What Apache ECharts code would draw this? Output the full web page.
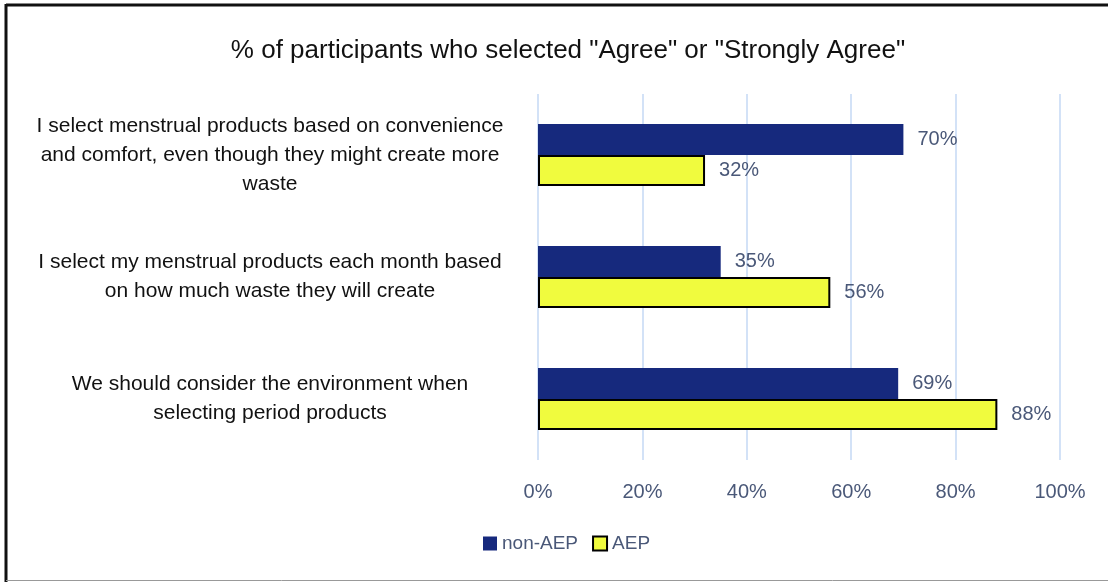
<!DOCTYPE html>
<html>
<head>
<meta charset="utf-8">
<script src="https://cdn.jsdelivr.net/npm/echarts@6/dist/echarts.min.js"></script>
<style>
html,body{margin:0;padding:0;background:#fff;}
#c{width:1108px;height:582px;}
</style>
</head>
<body>
<div id="c"></div>
<script>
const categories = [
  "I select menstrual products based on convenience\nand comfort, even though they might create more\nwaste",
  "I select my menstrual products each month based\non how much waste they will create",
  "We should consider the environment when\nselecting period products"
];
const nonAEP = [70, 35, 69];
const AEP = [32, 56, 88];
const xTicks = [0, 20, 40, 60, 80, 100];

const chart = echarts.init(document.getElementById('c'), null, {renderer: 'canvas'});
const font = '"Liberation Sans", "Open Sans", sans-serif';
const slate = '#4a5878';
chart.setOption({
  animation: false,
  backgroundColor: '#fff',
  title: {
    text: '% of participants who selected "Agree" or "Strongly Agree"',
    left: 563, top: 33, textAlign: 'center',
    textStyle: {fontFamily: font, fontSize: 26, fontWeight: 'normal', color: '#111'}
  },
  legend: {
    bottom: 24, left: 478, itemWidth: 14, itemHeight: 14, itemGap: 14,
    icon: 'rect',
    textStyle: {fontFamily: font, fontSize: 19, color: slate},
    data: ['non-AEP', 'AEP']
  },
  grid: {left: 538, right: 48, top: 94, bottom: 122},
  xAxis: {
    type: 'value', min: xTicks[0], max: xTicks[xTicks.length-1], interval: 20,
    axisLine: {show: false}, axisTick: {show: false},
    splitLine: {lineStyle: {color: '#d3e2f7', width: 2}},
    axisLabel: {formatter: '{value}%', margin: 22, fontFamily: font, fontSize: 20, color: slate}
  },
  yAxis: {
    type: 'category', data: categories, inverse: true,
    axisLine: {show: false}, axisTick: {show: false},
    axisLabel: {margin: 268, align: 'center', fontFamily: font, fontSize: 21, lineHeight: 29, color: '#111'}
  },
  series: [
    {
      name: 'non-AEP', type: 'bar', data: nonAEP, barWidth: 31, barGap: '0%',
      itemStyle: {color: '#16297d'},
      label: {show: true, position: 'right', distance: 14, formatter: '{c}%', fontFamily: font, fontSize: 20, color: slate}
    },
    {
      name: 'AEP', type: 'bar', data: AEP, barWidth: 31,
      itemStyle: {color: '#f0fb3e', borderColor: '#000', borderWidth: 2},
      label: {show: true, position: 'right', distance: 14, formatter: '{c}%', fontFamily: font, fontSize: 20, color: slate}
    }
  ],
  graphic: [
    {type: 'line', shape: {x1: 6, y1: 5, x2: 1108, y2: 5}, style: {stroke: '#111', lineWidth: 3}},
    {type: 'line', shape: {x1: 6, y1: 4, x2: 6, y2: 582}, style: {stroke: '#111', lineWidth: 3}},
    {type: 'line', shape: {x1: 6, y1: 580.5, x2: 1108, y2: 580.5}, style: {stroke: '#999', lineWidth: 1}}
  ]
});
</script>
</body>
</html>
